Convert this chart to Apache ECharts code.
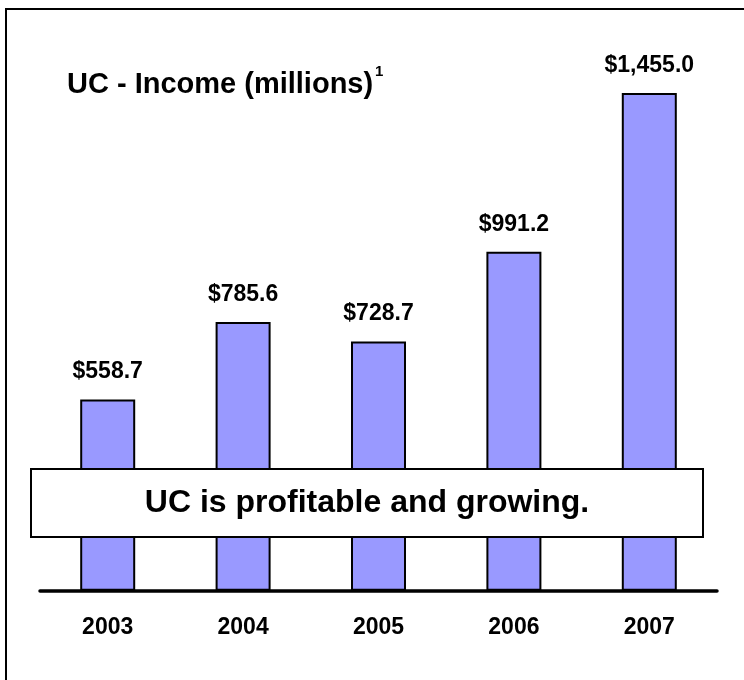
<!DOCTYPE html>
<html>
<head>
<meta charset="utf-8">
<script src="https://cdn.jsdelivr.net/npm/echarts@6/dist/echarts.min.js"></script>
<style>
html,body{margin:0;padding:0;background:#fff;}
#chart{width:744px;height:680px;}
</style>
</head>
<body>
<div id="chart"></div>
<script>
var years = ['2003', '2004', '2005', '2006', '2007'];
var income = [558.7, 785.6, 728.7, 991.2, 1455.0];
var titleText = 'UC - Income (millions)';
var footnoteMark = '1';
var calloutText = 'UC is profitable and growing.';

var FONT = '"Liberation Sans", Arial, sans-serif';

function fmt(v) {
  return '$' + v.toLocaleString('en-US', {minimumFractionDigits: 1, maximumFractionDigits: 1});
}

var chart = echarts.init(document.getElementById('chart'), null, {renderer: 'canvas'});
chart.setOption({
  animation: false,
  backgroundColor: '#ffffff',
  title: {
    text: titleText,
    left: 62,
    top: 65,
    textStyle: {fontFamily: FONT, fontSize: 29, fontWeight: 'bold', color: '#000'}
  },
  grid: {left: 40, right: 27, top: 43.5, bottom: 89.3},
  xAxis: {
    type: 'category',
    data: years,
    axisLine: {lineStyle: {color: '#000', width: 3.5}},
    axisTick: {show: false},
    axisLabel: {fontFamily: FONT, fontSize: 23, fontWeight: 'bold', color: '#000', margin: 25}
  },
  yAxis: {
    type: 'value',
    min: 0,
    max: 1600,
    show: false,
    splitLine: {show: false}
  },
  series: [{
    type: 'bar',
    data: income,
    barWidth: 55,
    itemStyle: {color: '#9999FF', borderColor: '#000', borderWidth: 2},
    label: {
      show: true,
      position: 'top',
      distance: 16,
      formatter: function (p) { return fmt(p.value); },
      fontFamily: FONT, fontSize: 23, fontWeight: 'bold', color: '#000'
    }
  }],
  graphic: [
    {
      type: 'rect', z: 100,
      shape: {x: 6, y: 9, width: 800, height: 800},
      style: {fill: null, stroke: '#000', lineWidth: 2}
    },
    {
      type: 'text', z: 100,
      left: 375, top: 64,
      style: {text: footnoteMark, fontFamily: FONT, fontSize: 15, fontWeight: 'bold', fill: '#000'}
    },
    {
      type: 'group', z: 100,
      children: [
        {
          type: 'rect', z: 100,
          shape: {x: 31, y: 469, width: 672, height: 68},
          style: {fill: '#fff', stroke: '#000', lineWidth: 2}
        },
        {
          type: 'text', z: 101,
          x: 367, y: 503,
          style: {text: calloutText, fontFamily: FONT, fontSize: 32, fontWeight: 'bold', fill: '#000', align: 'center', verticalAlign: 'middle'}
        }
      ]
    }
  ]
});
</script>
</body>
</html>
